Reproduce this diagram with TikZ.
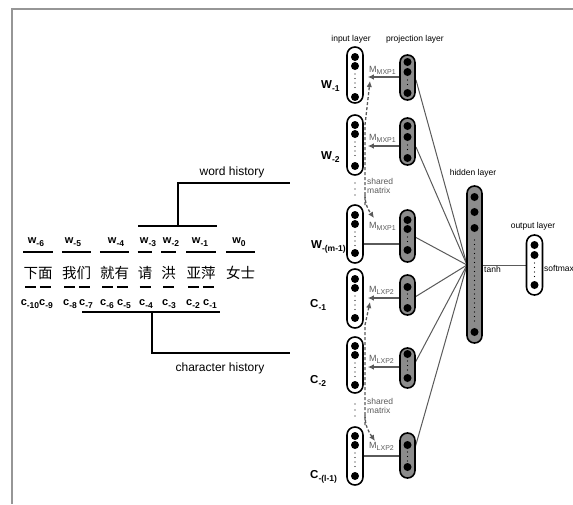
\documentclass[tikz,border=0pt]{standalone}
\usepackage{fontspec}
\setmainfont{Liberation Sans}
\newfontfamily\cjk{Noto Sans CJK SC}
\usetikzlibrary{arrows.meta,calc}
\definecolor{framegray}{RGB}{150,150,150}
\definecolor{linegray}{RGB}{90,90,90}
\definecolor{boxgray}{RGB}{140,140,140}
\newcommand\mysub[1]{\raisebox{-3pt}{\fontsize{8.5}{9}\selectfont #1}}
\newcommand\msub[1]{\raisebox{-2.2pt}{\fontsize{7}{7}\selectfont #1}}
% #1 name, #2 style, #3 x, #4 top, #5 bottom, #6 big dots, #7 tiny start, #8 tiny end
\newcommand\capsule[8]{%
  \node[#2, minimum height={#5-#4}] (#1) at (#3,{(#4+#5)/2}) {};
  \foreach \yy in {#6} \fill (#3,\yy) circle[radius=4pt];
  \pgfmathsetmacro\yn{#7+4.5}%
  \foreach \yy in {#7,\yn,...,#8} \fill (#3,\yy) circle[radius=0.6pt];
}
\begin{document}
\begin{tikzpicture}[x=1pt,y=-1pt,
  every node/.style={inner sep=0pt},
  inbox/.style={draw=black,line width=1.6pt,fill=white,rounded corners=7.9pt,minimum width=16pt},
  projbox/.style={draw=black,line width=1.6pt,fill=boxgray,rounded corners=7.4pt,minimum width=15pt},
  bar/.style={line width=1.1pt},
  brk/.style={line width=1.1pt},
  conn/.style={linegray,line width=1pt},
  arr/.style={linegray,line width=1.3pt,-{Latex[length=6pt,width=5.5pt]},shorten >=4pt},
  shared/.style={linegray,line width=1.3pt,dash pattern=on 3pt off 2pt,-{Latex[length=6pt,width=5.5pt]}},
  lay/.style={font=\fontsize{8.5}{10}\selectfont},
  hist/.style={font=\fontsize{12}{14}\selectfont},
  wl/.style={font=\fontsize{11}{13}\selectfont\bfseries,anchor=base},
  bigl/.style={font=\fontsize{11.5}{13}\selectfont\bfseries,anchor=base west},
  zh/.style={font=\cjk\fontsize{14.5}{16}\selectfont},
  ml/.style={text=linegray,font=\fontsize{9}{10}\selectfont,anchor=base west},
  sm/.style={anchor=north west,align=left,text=linegray,font=\fontsize{8.5}{9}\selectfont},
]
\useasboundingbox (0,0) rectangle (573,504);
% frame
\draw[framegray,line width=1.3pt] (11,9) -- (573,9);
\draw[framegray,line width=2.2pt] (12,9) -- (12,504);

% ---------- left: sentence ----------
\node[hist] (wh) at (232,172) {word history};
\node[hist] (ch) at (220,368) {character history};

\node[zh] (z1) at (38,273) {下面};
\node[zh] (z2) at (76.5,273) {我们};
\node[zh] (z3) at (114.5,273) {就有};
\node[zh] (z4) at (145,273) {请};
\node[zh] (z5) at (168.5,273) {洪};
\node[zh] (z6) at (201,273) {亚萍};
\node[zh] (z7) at (240.5,273) {女士};

\node[wl] (w6) at (36,243) {w\mysub{-6}};
\node[wl] (w5) at (73,243) {w\mysub{-5}};
\node[wl] (w4) at (116,243) {w\mysub{-4}};
\node[wl] (w3) at (148,243) {w\mysub{-3}};
\node[wl] (w2) at (171,243) {w\mysub{-2}};
\node[wl] (w1) at (200,243) {w\mysub{-1}};
\node[wl] (w0) at (239,243) {w\mysub{0}};

\coordinate (wb) at (0,252);
\foreach \n in {1,...,7} \draw[bar] (z\n.west |- wb) -- (z\n.east |- wb);
\foreach \cx in {30.75,45.25,69.75,84.25,107.75,122.25,145,168.5,193.75,208.25}
  \draw[bar] ({\cx-5.5},287) -- ({\cx+5.5},287);

\node[wl] (c10) at (30,305) {c\mysub{-10}};
\node[wl] (c9) at (46,305) {c\mysub{-9}};
\node[wl] (c8) at (70,305) {c\mysub{-8}};
\node[wl] (c7) at (86,305) {c\mysub{-7}};
\node[wl] (c6) at (107,305) {c\mysub{-6}};
\node[wl] (c5) at (124,305) {c\mysub{-5}};
\node[wl] (c4) at (146,305) {c\mysub{-4}};
\node[wl] (c3) at (169,305) {c\mysub{-3}};
\node[wl] (c2) at (193,305) {c\mysub{-2}};
\node[wl] (c1) at (210,305) {c\mysub{-1}};

% brackets
\coordinate (wbL) at (138,226); \coordinate (wbR) at (217,226);
\coordinate (wbM) at (178,226); \coordinate (wbT) at (178,183); \coordinate (wbE) at (290,183);
\draw[brk] (wbL) -- (wbR);
\draw[brk] (wbM) -- (wbT) -- (wbE);
\coordinate (cbL) at (82,312); \coordinate (cbR) at (220,312);
\coordinate (cbM) at (152,312); \coordinate (cbB) at (152,353); \coordinate (cbE) at (290,353);
\draw[brk] (cbL) -- (cbR);
\draw[brk] (cbM) -- (cbB) -- (cbE);

% ---------- right: network ----------
\node[lay] (lin) at (351,39) {input layer};
\node[lay] (lpr) at (415,39) {projection layer};
\node[lay] (lhi) at (473,173) {hidden layer};
\node[lay] (lou) at (533,226) {output layer};

% connectors to hidden (drawn first)
\coordinate (hw) at (467,265);
\foreach \a/\b in {416/80,416/147,415/237,415/297,415/363,415/448}
  \draw[conn] (\a,\b) -- (hw);
\draw[conn] (482,265) -- (527,265);

\capsule{in1}{inbox}{355}{47}{103}{57,66,97}{74}{90}
\capsule{in2}{inbox}{355}{115}{175}{125,134,166}{142}{158}
\capsule{in3}{inbox}{355}{205}{263}{215,224,253}{232}{246}
\capsule{in4}{inbox}{355}{269}{328}{279,288,318}{296}{311}
\capsule{in5}{inbox}{355}{337}{393}{346,355,385}{363}{378}
\capsule{in6}{inbox}{355}{427}{485}{436,445,476}{453}{469}

\capsule{pr1}{projbox}{407.5}{55}{100}{62,72,93}{80}{86}
\capsule{pr2}{projbox}{407.5}{118}{165}{126,137,158}{145}{151}
\capsule{pr3}{projbox}{407.5}{210}{262}{220,229,250}{237}{243}
\capsule{pr4}{projbox}{407.5}{275}{315}{287,308}{294}{302}
\capsule{pr5}{projbox}{407.5}{348}{388}{354,378}{361}{371}
\capsule{pr6}{projbox}{407.5}{433}{478}{445,467}{452}{461}

\capsule{hid}{projbox}{474.5}{186}{343}{197,212,228,332}{240}{325}
\capsule{out}{inbox}{534.5}{235}{295}{245,255,285}{263}{278}

% vertical ellipses between groups
\foreach \yy in {183,189,195,404,410,416} \fill (355,\yy) circle[radius=0.6pt];

% projection -> input arrows
\draw[arr] (pr1.west |- 0,77) -- (in1.east |- 0,77);
\draw[arr] (pr2.west |- 0,146) -- (in2.east |- 0,146);
\draw[linegray,line width=1.3pt] (pr3.west |- 0,244) -- (in3.east |- 0,244);
\draw[arr] (pr4.west |- 0,298) -- (in4.east |- 0,298);
\draw[arr] (pr5.west |- 0,367) -- (in5.east |- 0,367);
\draw[linegray,line width=1.3pt] (pr6.west |- 0,456) -- (in6.east |- 0,456);

\node[ml] (m1) at (369,72) {M\msub{MXP1}};
\node[ml] (m2) at (369,140) {M\msub{MXP1}};
\node[ml] (m3) at (369,228) {M\msub{MXP1}};
\node[ml] (m4) at (369,292) {M\msub{LXP2}};
\node[ml] (m5) at (369,361) {M\msub{LXP2}};
\node[ml] (m6) at (369,448) {M\msub{LXP2}};

% shared matrix dashed arrows
\coordinate (swB) at (365,205); \coordinate (swA) at (365,125); \coordinate (swT) at (370,81);
\coordinate (swS) at (365,195); \coordinate (swE) at (374,218);
\draw[shared] (swB) -- (swA) -- (swT);
\draw[shared] (swS) to[out=-90,in=125] (swE);
\coordinate (scB) at (365,425); \coordinate (scA) at (365,325); \coordinate (scT) at (370,302);
\coordinate (scS) at (365,415); \coordinate (scE) at (375,441);
\draw[shared] (scB) -- (scA) -- (scT);
\draw[shared] (scS) to[out=-90,in=125] (scE);
\node[sm] (sm1) at (367,178) {shared\\matrix};
\node[sm] (sm2) at (367,398) {shared\\matrix};

% row labels
\node[bigl] (lw1) at (321,88) {W\mysub{-1}};
\node[bigl] (lw2) at (321,159) {W\mysub{-2}};
\node[bigl] (lw3) at (311,248) {W\mysub{-(m-1)}};
\node[bigl] (lc1) at (310,307) {C\mysub{-1}};
\node[bigl] (lc2) at (310,383) {C\mysub{-2}};
\node[bigl] (lc3) at (310,478) {C\mysub{-(l-1)}};

\node[lay,anchor=west] (tanh) at (484,269) {tanh};
\node[lay,anchor=west] (smx) at (544,268) {softmax};
\end{tikzpicture}
\end{document}
